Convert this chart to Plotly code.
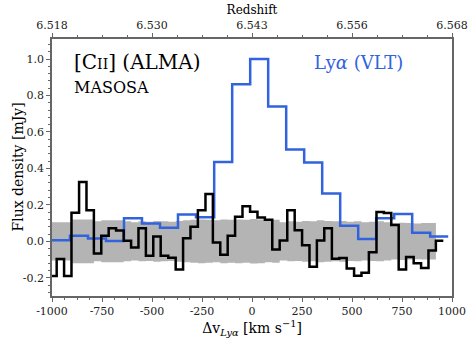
import numpy as np
import plotly.graph_objects as go

# [CII] (ALMA) spectrum, channel centres [km/s] and flux [mJy]
cii_vel = [-995, -958, -921, -884, -846, -809, -772, -735, -698, -661, -623,
           -586, -549, -512, -475, -438, -400, -363, -326, -289, -252, -214,
           -177, -140, -103, -66, -29, 9, 46, 83, 120, 157, 195, 232, 269,
           306, 343, 380, 418, 455, 492, 529, 566, 603, 641, 678, 715, 752,
           789, 827, 864, 901, 938]
cii_flux = [-0.19, -0.097, -0.19, 0.157, 0.326, 0.17, -0.067, 0.03, 0.072,
            0.059, 0.003, -0.034, 0.072, -0.079, 0.026, -0.079, -0.09, -0.155,
            0.017, 0.08, 0.17, 0.259, -0.006, -0.074, 0.03, 0.135, 0.193,
            0.162, 0.131, 0.119, -0.045, 0.004, 0.17, 0.061, -0.022, -0.14,
            0.004, 0.072, -0.095, -0.092, -0.149, -0.189, -0.173, -0.06, 0.161,
            0.156, 0.09, -0.155, -0.086, -0.12, -0.146, -0.05, 0.003]
# 1-sigma noise per channel (grey band)
cii_rms = [0.105, 0.105, 0.105, 0.12, 0.12, 0.12, 0.11, 0.115, 0.115, 0.115,
           0.11, 0.105, 0.11, 0.108, 0.112, 0.11, 0.108, 0.112, 0.115, 0.118,
           0.12, 0.118, 0.115, 0.12, 0.118, 0.12, 0.118, 0.122, 0.12, 0.115,
           0.118, 0.105, 0.11, 0.108, 0.112, 0.11, 0.115, 0.112, 0.11, 0.112,
           0.108, 0.11, 0.105, 0.108, 0.11, 0.105, 0.1, 0.102, 0.1, 0.098,
           0.1, 0.1]
cii_dv = 37.2

# Lya (VLT) spectrum, normalised
lya_vel = [-955, -865, -775, -685, -595, -505, -415, -325, -235, -144, -54,
           36, 126, 216, 306, 396, 486, 576, 666, 756, 846, 936]
lya_flux = [0.006, 0.03, 0.015, 0.002, 0.127, 0.098, 0.074, 0.147, 0.132,
            0.435, 0.862, 1.0, 0.74, 0.504, 0.433, 0.262, 0.086, 0.013, 0.126,
            0.15, 0.047, 0.026]
lya_dv = 90.1

vel_ticks = [-1000, -750, -500, -250, 0, 250, 500, 750, 1000]
vel_labels = ["-1000", "-750", "-500", "-250", "0", "250", "500", "750", "1000"]
flux_ticks = [-0.2, 0.0, 0.2, 0.4, 0.6, 0.8, 1.0]
flux_labels = ["-0.2", "0.0", "0.2", "0.4", "0.6", "0.8", "1.0"]
z_ticks = [-1000, -500, 0, 500, 1000]
z_labels = ["6.518", "6.530", "6.543", "6.556", "6.568"]

FONT = "DejaVu Serif"
BLUE = "#3163dd"
AXC = "#666666"


def edges_steps(vel, vals, dv):
    vel = np.asarray(vel, dtype=float)
    vals = np.asarray(vals, dtype=float)
    x = np.append(vel - dv / 2, vel[-1] + dv / 2)
    y = np.append(vals, vals[-1])
    return x, y


fig = go.Figure()

# noise band
bx, btop = edges_steps(cii_vel[:len(cii_rms)], cii_rms, cii_dv)
fig.add_trace(go.Scatter(x=bx, y=btop, mode="lines", line=dict(width=0, shape="hv"),
                         hoverinfo="skip", showlegend=False))
fig.add_trace(go.Scatter(x=bx, y=-btop, mode="lines", line=dict(width=0, shape="hv"),
                         fill="tonexty", fillcolor="#b4b4b4", hoverinfo="skip",
                         showlegend=False))

lx, ly = edges_steps(lya_vel, lya_flux, lya_dv)
fig.add_trace(go.Scatter(x=lx, y=ly, mode="lines", line=dict(color=BLUE, width=2.5, shape="hv"),
                         name="Lyα (VLT)", showlegend=False))

cx, cy = edges_steps(cii_vel, cii_flux, cii_dv)
fig.add_trace(go.Scatter(x=cx, y=cy, mode="lines", line=dict(color="black", width=2.5, shape="hv"),
                         name="[CII] (ALMA)", showlegend=False))

# dummy trace on the top axis
fig.add_trace(go.Scatter(x=[-1000, 1000], y=[None, None], xaxis="x2", showlegend=False,
                         hoverinfo="skip"))

axis_common = dict(showline=True, linecolor=AXC, linewidth=1.5, ticks="outside",
                   tickcolor=AXC, ticklen=4, tickwidth=1, showgrid=False, zeroline=False,
                   automargin=False, tickfont=dict(family=FONT, size=11, color="#222"))

fig.update_layout(
    width=474, height=346,
    margin=dict(l=52, r=22, t=39, b=50),
    paper_bgcolor="white", plot_bgcolor="white",
    font=dict(family=FONT, color="black"),
    xaxis=dict(range=[-1000, 1000], tickvals=vel_ticks, ticktext=vel_labels, mirror=True,
               minor=dict(dtick=62.5, tick0=-1000, ticklen=2, ticks="outside", tickcolor=AXC),
               title=dict(text="Δv<sub><i>Lyα</i></sub> [km s<sup>−1</sup>]",
                          font=dict(family=FONT, size=14), standoff=6),
               **axis_common),
    xaxis2=dict(range=[-1000, 1000], overlaying="x", side="top", tickvals=z_ticks,
                ticktext=z_labels, anchor="y",
                minor=dict(dtick=125, tick0=-1000, ticklen=2, ticks="outside", tickcolor=AXC),
                title=dict(text="Redshift", font=dict(family=FONT, size=12), standoff=2),
                **axis_common),
    yaxis=dict(range=[-0.3, 1.11], tickvals=flux_ticks, ticktext=flux_labels, mirror=True,
               minor=dict(dtick=0.04, tick0=0, ticklen=2, ticks="outside", tickcolor=AXC),
               **axis_common),
    annotations=[
        dict(text="Flux density [mJy]", x=-0.0875, y=0.5, xref="paper", yref="paper",
             xanchor="center", yanchor="middle", textangle=-90, showarrow=False,
             font=dict(family=FONT, size=14, color="black")),
        dict(text="[C<span style='font-size:14px'>II</span>] (ALMA)", x=0.05, y=0.91,
             xref="paper", yref="paper", xanchor="left", yanchor="middle", showarrow=False,
             font=dict(family=FONT, size=20, color="black")),
        dict(text="MASOSA", x=0.05, y=0.813, xref="paper", yref="paper", xanchor="left",
             yanchor="middle", showarrow=False, font=dict(family=FONT, size=16, color="black")),
        dict(text="Ly<i>α</i> (VLT)", x=0.65, y=0.91, xref="paper", yref="paper",
             xanchor="left", yanchor="middle", showarrow=False,
             font=dict(family=FONT, size=18, color=BLUE)),
    ],
)

fig.write_html("out.html", config={"displayModeBar": False},
               post_script="document.body.style.margin='0';")
